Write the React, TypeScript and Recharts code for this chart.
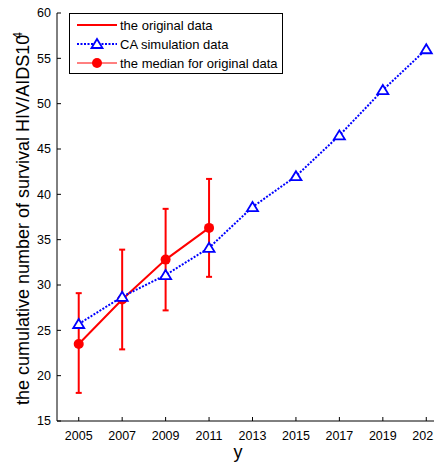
import React from "react"
import {
  ComposedChart,
  Line,
  XAxis,
  YAxis,
  ErrorBar,
  Legend,
  Label,
} from "recharts"

// years on the x axis
const years = [2005, 2007, 2009, 2011, 2013, 2015, 2017, 2019, 2021]
// CA simulation (×10^4)
const caSim = [25.7, 28.7, 31.1, 34.1, 38.6, 42.0, 46.5, 51.5, 56.0]
// original data: median with low/high range
const origYears = [2005, 2007, 2009, 2011]
const origMedian = [23.5, 28.4, 32.8, 36.3]
const origLow = [18.1, 22.9, 27.2, 30.9]
const origHigh = [29.1, 33.9, 38.4, 41.7]
const yTicks = [15, 20, 25, 30, 35, 40, 45, 50, 55, 60]

const RED = "#ff0000"
const BLUE = "#0000ff"
const FONT = "'Liberation Sans', Arial, sans-serif"

const data = years.map((year, i) => {
  const j = origYears.indexOf(year)
  return {
    year,
    ca: caSim[i],
    orig: j >= 0 ? origMedian[j] : undefined,
    err: j >= 0 ? [origMedian[j] - origLow[j], origHigh[j] - origMedian[j]] : undefined,
  }
})

function Triangle(props: any) {
  const { cx, cy } = props
  if (cx == null || cy == null) return null
  return (
    <polygon
      points={`${cx},${cy - 5} ${cx - 5.5},${cy + 4} ${cx + 5.5},${cy + 4}`}
      fill="#fff"
      stroke={BLUE}
      strokeWidth={1.8}
    />
  )
}

function XTick(props: any) {
  const { x, y, payload } = props
  return (
    <g>
      <line x1={x} y1={y} x2={x} y2={y - 4} stroke="#000" />
      <text x={x} y={y + 19} textAnchor="middle" fontSize={12.5} fill="#000" fontFamily={FONT}>
        {payload.value}
      </text>
    </g>
  )
}

function YTick(props: any) {
  const { x, y, payload } = props
  return (
    <g>
      <line x1={x} y1={y} x2={x + 4} y2={y} stroke="#000" />
      <text x={x - 6} y={y} dy="0.35em" textAnchor="end" fontSize={12.5} fill="#000" fontFamily={FONT}>
        {payload.value}
      </text>
    </g>
  )
}

function LegendBox() {
  const row = { display: "flex", alignItems: "center", height: 19 }
  const txt = { marginLeft: 3, fontSize: 13, color: "#000", fontFamily: FONT, whiteSpace: "nowrap" as const }
  return (
    <div
      style={{
        border: "1px solid #000",
        background: "#fff",
        width: 214,
        height: 61,
        boxSizing: "border-box",
        paddingTop: 1.5,
        paddingLeft: 7,
      }}
    >
      <div style={row}>
        <svg width={40} height={12}>
          <line x1={0} y1={6} x2={40} y2={6} stroke={RED} strokeWidth={2} />
        </svg>
        <span style={txt}>the original data</span>
      </div>
      <div style={row}>
        <svg width={40} height={14}>
          <line x1={0} y1={7} x2={40} y2={7} stroke={BLUE} strokeWidth={2} strokeDasharray="2 1.5" />
          <Triangle cx={20} cy={7} />
        </svg>
        <span style={txt}>CA simulation data</span>
      </div>
      <div style={row}>
        <svg width={40} height={12}>
          <line x1={0} y1={6} x2={40} y2={6} stroke={RED} strokeWidth={1} />
          <circle cx={20} cy={6} r={5} fill={RED} />
        </svg>
        <span style={txt}>the median for original data</span>
      </div>
    </div>
  )
}

function YLabel() {
  return (
    <text
      transform="translate(29,405) rotate(-90)"
      fontSize={18}
      fill="#000"
      fontFamily={FONT}
      textAnchor="start"
    >
      the cumulative number of survival HIV/AIDS10
      <tspan dx={-4} dy={-7} fontSize={12}>4</tspan>
    </text>
  )
}

export default function App() {
  return (
    <div
      style={{
        position: "absolute",
        left: 0,
        top: 0,
        width: 434,
        height: 463,
        overflow: "hidden",
        background: "#fff",
      }}
    >
      <ComposedChart
        width={448}
        height={463}
        data={data}
        margin={{ top: 13, right: 0, bottom: 0, left: 0 }}
      >
        <XAxis
          dataKey="year"
          type="number"
          domain={[2004, 2022]}
          ticks={years}
          height={42}
          tickSize={0}
          tickMargin={0}
          tickLine={false}
          stroke="#000"
          tick={<XTick />}
        >
          <Label
            content={() => (
              <text x={238} y={458} textAnchor="middle" fontSize={18} fill="#000" fontFamily={FONT}>
                y
              </text>
            )}
          />
        </XAxis>
        <YAxis
          type="number"
          domain={[15, 60]}
          ticks={yTicks}
          width={57}
          tickSize={0}
          tickMargin={0}
          tickLine={false}
          stroke="#000"
          tick={<YTick />}
        >
          <Label content={() => <YLabel />} />
        </YAxis>
        <Legend
          layout="vertical"
          align="center"
          verticalAlign="middle"
          wrapperStyle={{ left: 69, top: 13, width: 214 }}
          content={() => <LegendBox />}
        />
        <Line
          dataKey="orig"
          stroke={RED}
          strokeWidth={2}
          dot={{ r: 5, fill: RED, stroke: RED, strokeWidth: 0 }}
          activeDot={false}
          isAnimationActive={false}
        >
          <ErrorBar dataKey="err" direction="y" width={3} stroke={RED} strokeWidth={2} />
        </Line>
        <Line
          dataKey="ca"
          stroke={BLUE}
          strokeWidth={2}
          strokeDasharray="2 1.5"
          dot={<Triangle />}
          activeDot={false}
          isAnimationActive={false}
        />
      </ComposedChart>
    </div>
  )
}
